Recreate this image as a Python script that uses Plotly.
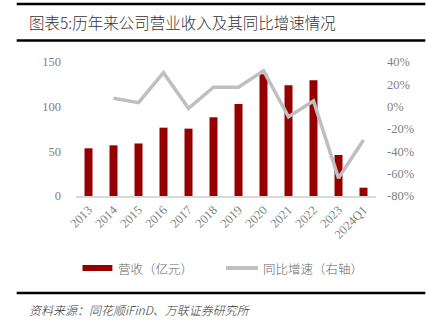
import plotly.graph_objects as go

# Annual revenue (100M CNY) and YoY growth (%)
periods = ["2013", "2014", "2015", "2016", "2017", "2018", "2019", "2020",
           "2021", "2022", "2023", "2024Q1"]
revenue = [53.4, 56.7, 58.8, 76.5, 75.4, 88.1, 103.0, 136.2, 124.0, 129.5, 45.9, 9.3]
yoy_growth = [None, 7.5, 3.6, 30.4, -1.5, 17.4, 17.4, 32.2, -9.0, 5.1, -64.0, -29.8]

left_ticks = [0, 50, 100, 150]
right_ticks = [-80, -60, -40, -20, 0, 20, 40]

BAR_RED = "#960000"
LINE_GREY = "#BFBFBF"
TICK_GREY = "#7F7F7F"
SERIF = "Liberation Serif, Times New Roman, serif"
CJK = "Noto Sans CJK SC, sans-serif"

W, H = 426, 332
ML, MR, MT, MB = 75.5, 49.5, 62, 136


def px(x):
    return (x - ML) / (W - ML - MR)


def py(y):
    return (H - MB - y) / (H - MT - MB)


fig = go.Figure()
fig.add_trace(go.Bar(
    x=periods, y=revenue, marker=dict(color=BAR_RED, line=dict(width=0)),
    width=0.32, yaxis="y", showlegend=False, hoverinfo="x+y"))
fig.add_trace(go.Scatter(
    x=periods, y=yoy_growth, mode="lines", yaxis="y2",
    line=dict(color=LINE_GREY, width=3.5), connectgaps=False,
    showlegend=False))

fig.update_layout(
    width=W, height=H,
    margin=dict(l=ML, r=MR, t=MT, b=MB, pad=0),
    paper_bgcolor="white", plot_bgcolor="white",
    xaxis=dict(
        type="category", tickangle=-45, showgrid=False, zeroline=False,
        showline=True, linecolor="#D9D9D9", linewidth=1.5, ticks="",
        tickfont=dict(family=SERIF, size=12.5, color=TICK_GREY),
        range=[-0.5, len(periods) - 0.5]),
    yaxis=dict(
        range=[0, 150], tickvals=left_ticks, ticktext=[str(v) for v in left_ticks],
        showgrid=False, zeroline=False, showline=False, ticks="",
        ticklabelstandoff=14,
        tickfont=dict(family=SERIF, size=12.5, color=TICK_GREY)),
    yaxis2=dict(
        range=[-80, 40], overlaying="y", side="right",
        tickvals=right_ticks, ticktext=[f"{v}%" for v in right_ticks],
        showgrid=False, zeroline=False, showline=False, ticks="",
        ticklabelstandoff=10,
        tickfont=dict(family=SERIF, size=12.5, color=TICK_GREY)),
    font=dict(family=CJK),
)

shapes = [
    # rules framing the heading
    dict(type="line", xref="paper", yref="paper", x0=px(16), x1=px(426),
         y0=py(4), y1=py(4), line=dict(color="black", width=2.5)),
    dict(type="line", xref="paper", yref="paper", x0=px(16), x1=px(426),
         y0=py(40.5), y1=py(40.5), line=dict(color="black", width=2.5)),
    # rule above the source note
    dict(type="line", xref="paper", yref="paper", x0=px(16), x1=px(426),
         y0=py(293), y1=py(293), line=dict(color="black", width=2.5)),
    # legend swatches
    dict(type="rect", xref="paper", yref="paper", x0=px(82), x1=px(112),
         y0=py(265), y1=py(271), fillcolor=BAR_RED, line=dict(width=0)),
    dict(type="line", xref="paper", yref="paper", x0=px(226), x1=px(258),
         y0=py(268), y1=py(268), line=dict(color=LINE_GREY, width=4)),
]

annotations = [
    dict(text="图表5:历年来公司营业收入及其同比增速情况", xref="paper", yref="paper",
         x=px(26), y=py(22), xanchor="left", yanchor="middle", showarrow=False,
         font=dict(family=CJK, size=15.5, color="#333333", weight=300)),
    dict(text="营收（亿元）", xref="paper", yref="paper",
         x=px(116), y=py(268), xanchor="left", yanchor="middle", showarrow=False,
         font=dict(family=CJK, size=12.5, color="#666666", weight=300)),
    dict(text="同比增速（右轴）", xref="paper", yref="paper",
         x=px(261), y=py(268), xanchor="left", yanchor="middle", showarrow=False,
         font=dict(family=CJK, size=12.5, color="#666666", weight=300)),
    dict(text="资料来源：同花顺iFinD、万联证券研究所", xref="paper", yref="paper",
         x=px(26), y=py(309), xanchor="left", yanchor="middle", showarrow=False,
         font=dict(family=CJK, size=12, color="#333333", style="italic", weight=300)),
]

fig.update_layout(shapes=shapes, annotations=annotations)
fig.write_html("out.html")
